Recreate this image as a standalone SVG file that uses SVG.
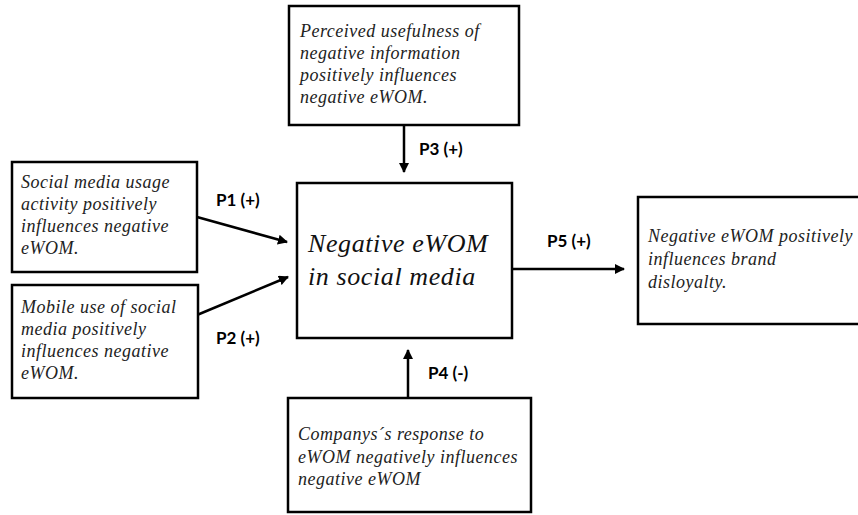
<svg xmlns="http://www.w3.org/2000/svg" width="858" height="515" viewBox="0 0 858 515">
<style>
.box{fill:#fff;stroke:#000;stroke-width:2.5}
.t{font-family:"Liberation Serif","DejaVu Serif",serif;font-style:italic;font-size:18px;letter-spacing:0.5px;fill:#222}
.big{font-family:"Liberation Serif","DejaVu Serif",serif;font-style:italic;font-size:26px;letter-spacing:0.6px;fill:#111}
.lbl{font-family:Lato,"Liberation Sans",sans-serif;font-weight:bold;font-size:17px;fill:#000}
.c{stroke:#000;stroke-width:2.5;fill:none;marker-end:url(#ah)}
</style>
<defs>
<marker id="ah" viewBox="0 0 10 10" refX="9" refY="5" markerWidth="4" markerHeight="4" orient="auto" markerUnits="strokeWidth">
<path d="M0,0 L10,5 L0,10 z" fill="#000"/>
</marker>
</defs>
<rect width="858" height="515" fill="#fff"/>
<g id="connectors">
<line class="c" x1="404" y1="125" x2="404" y2="172"/>
<line class="c" x1="197" y1="217" x2="287" y2="242"/>
<line class="c" x1="197" y1="315" x2="288" y2="277"/>
<line class="c" x1="512" y1="269" x2="624" y2="269"/>
<line class="c" x1="408" y1="398" x2="408" y2="350"/>
<text class="lbl" x="419" y="155">P3 (+)</text>
<text class="lbl" x="216" y="206">P1 (+)</text>
<text class="lbl" x="216" y="344">P2 (+)</text>
<text class="lbl" x="547" y="247">P5 (+)</text>
<text class="lbl" x="428" y="379">P4 (-)</text>
</g>
<g id="n-top">
<rect class="box" x="289" y="6" width="230" height="119"/>
<text class="t" x="300" y="37">Perceived usefulness of</text>
<text class="t" x="300" y="59">negative information</text>
<text class="t" x="300" y="81">positively influences</text>
<text class="t" x="300" y="103">negative eWOM.</text>
</g>
<g id="n-p1">
<rect class="box" x="12" y="162" width="185" height="110"/>
<text class="t" x="21" y="188">Social media usage</text>
<text class="t" x="21" y="210">activity positively</text>
<text class="t" x="21" y="232">influences negative</text>
<text class="t" x="21" y="254">eWOM.</text>
</g>
<g id="n-p2">
<rect class="box" x="12" y="285" width="186" height="113"/>
<text class="t" x="21" y="313">Mobile use of social</text>
<text class="t" x="21" y="335">media positively</text>
<text class="t" x="21" y="357">influences negative</text>
<text class="t" x="21" y="379">eWOM.</text>
</g>
<g id="n-center">
<rect class="box" x="297" y="183" width="215" height="155"/>
<text class="big" x="308" y="252">Negative eWOM</text>
<text class="big" x="308" y="285">in social media</text>
</g>
<g id="n-right">
<rect class="box" x="638" y="197" width="230" height="127"/>
<text class="t" x="648" y="242">Negative eWOM positively</text>
<text class="t" x="648" y="265">influences brand</text>
<text class="t" x="648" y="288">disloyalty.</text>
</g>
<g id="n-bottom">
<rect class="box" x="288" y="398" width="243" height="114"/>
<text class="t" x="298" y="440">Companys´s response to</text>
<text class="t" x="298" y="463">eWOM negatively influences</text>
<text class="t" x="298" y="485">negative eWOM</text>
</g>
</svg>
